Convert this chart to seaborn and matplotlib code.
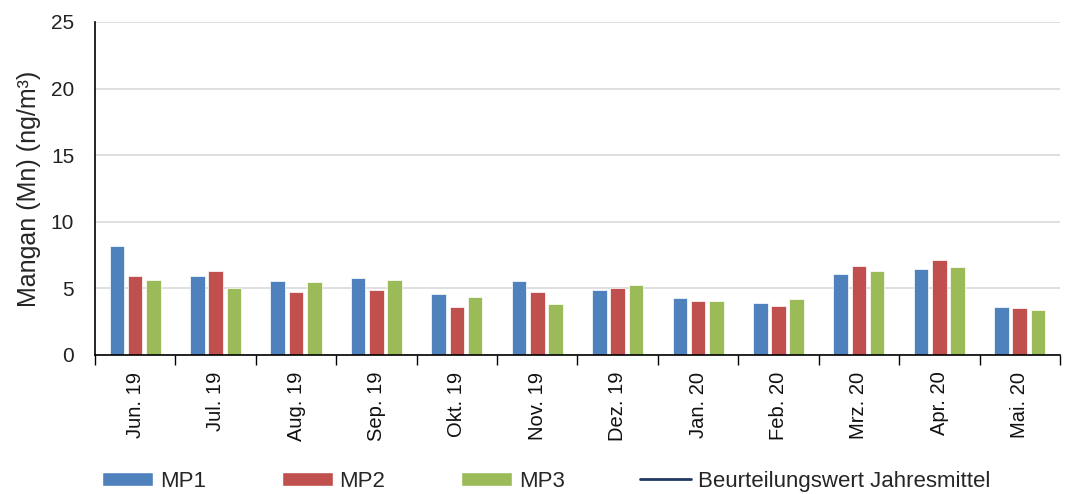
import seaborn as sns
import matplotlib.pyplot as plt
import matplotlib
import pandas as pd
import numpy as np
from matplotlib.patches import Patch
from matplotlib.lines import Line2D

months = ["Jun. 19", "Jul. 19", "Aug. 19", "Sep. 19", "Okt. 19", "Nov. 19",
          "Dez. 19", "Jan. 20", "Feb. 20", "Mrz. 20", "Apr. 20", "Mai. 20"]
mp1 = [8.2, 5.9, 5.55, 5.75, 4.55, 5.55, 4.85, 4.25, 3.9, 6.1, 6.45, 3.6]
mp2 = [5.9, 6.3, 4.75, 4.9, 3.6, 4.75, 5.05, 4.05, 3.7, 6.7, 7.1, 3.5]
mp3 = [5.65, 5.05, 5.45, 5.65, 4.35, 3.85, 5.25, 4.05, 4.2, 6.3, 6.6, 3.4]
series = ["MP1", "MP2", "MP3"]
colors = ["#4F81BD", "#C0504D", "#9BBB59"]
line_label = "Beurteilungswert Jahresmittel"


def mangan_chart():
    df = pd.DataFrame({"Monat": months * 3,
                       "Wert": mp1 + mp2 + mp3,
                       "Messpunkt": np.repeat(series, len(months))})

    sns.set_style("white")
    plt.rcParams["font.family"] = ["Liberation Sans", "DejaVu Sans"]

    fig = plt.figure(figsize=(10.67, 4.94), dpi=100)
    ax = fig.add_axes([0.089, 0.2814, 0.9044, 0.6741])

    sns.barplot(data=df, x="Monat", y="Wert", hue="Messpunkt",
                palette=colors, saturation=1, width=0.68, gap=0.2, ax=ax,
                edgecolor="white", linewidth=0.5, legend=False)

    ax.set_ylim(0, 25)
    ax.set_xlim(-0.5, len(months) - 0.5)
    ax.set_yticks(range(0, 26, 5))
    ax.yaxis.grid(True, color="#d9d9d9", linewidth=1.2)
    ax.set_axisbelow(True)
    ax.tick_params(axis="y", labelsize=15, length=0, pad=15,
                   colors="#222222")
    ax.set_xticks(range(len(months)))
    ax.set_xticklabels(months, rotation=90, fontsize=14.5, color="#111111")
    ax.tick_params(axis="x", which="major", length=0, pad=12)
    ax.set_xticks(np.arange(-0.5, len(months), 1), minor=True)
    ax.tick_params(axis="x", which="minor", bottom=True, length=7, width=1,
                   color="black", direction="out")
    ax.set_xlabel("")
    ax.set_ylabel("Mangan (Mn) (ng/m³)", fontsize=18, labelpad=7)

    for side in ["top", "right"]:
        ax.spines[side].set_visible(False)
    for side in ["left", "bottom"]:
        ax.spines[side].set_color("black")
        ax.spines[side].set_linewidth(1.2)

    handles = [Patch(facecolor=c, label=s) for c, s in zip(colors, series)]
    handles.append(Line2D([0], [0], color="#1F3864", linewidth=2,
                          label=line_label))
    fig.legend(handles=handles, loc="center", bbox_to_anchor=(0.512, 0.026),
               ncol=4, frameon=False, fontsize=16, columnspacing=3.4,
               handlelength=2.3, handleheight=0.6, handletextpad=0.3,
               borderpad=0)

    plt.savefig("out.png", dpi=100)


def main():
    matplotlib.use("Agg")
    mangan_chart()


if __name__ == "__main__":
    main()
